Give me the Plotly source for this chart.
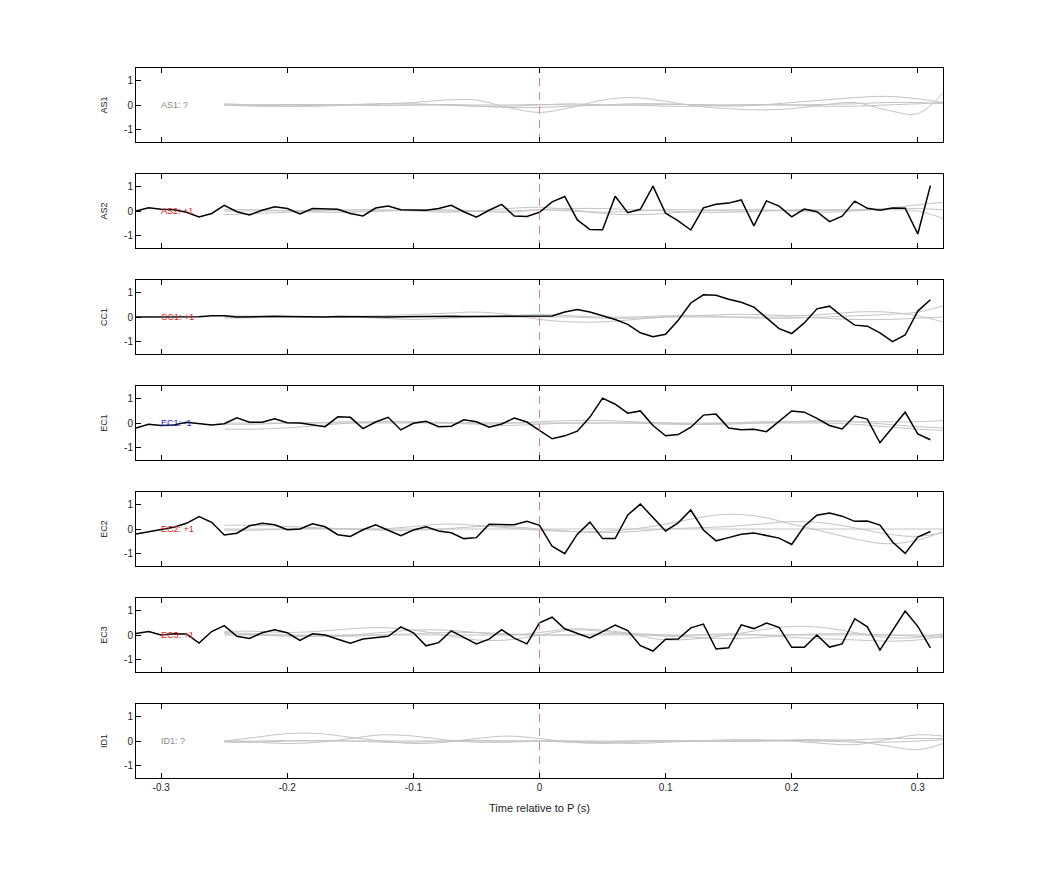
import plotly.graph_objects as go

stations = ["AS1", "AS2", "CC1", "EC1", "EC2", "EC3", "ID1"]
labels = ["AS1: ?", "AS2: +1", "CC1: +1", "EC1: -1", "EC2: +1", "EC3: +1", "ID1: ?"]
label_colors = ["#888888", "#dd2222", "#dd2222", "#2222cc", "#dd2222", "#dd2222", "#888888"]

t_black = [round(-0.32 + 0.01 * i, 2) for i in range(64)]
black = {
    "AS2": [0, 0.13, 0.07, 0.05, -0.05, -0.24, -0.1, 0.23, -0.03, -0.16, 0.03, 0.17, 0.1, -0.12, 0.1, 0.1,
            0.07, -0.1, -0.2, 0.12, 0.2, 0.05, 0.05, 0.03, 0.1, 0.23, -0.03, -0.25, 0.03, 0.27, -0.2, -0.22,
            -0.05, 0.37, 0.59, -0.36, -0.75, -0.76, 0.6, -0.07, 0.07, 1.01, -0.09, -0.4, -0.77, 0.13, 0.27, 0.32,
            0.45, -0.6, 0.41, 0.2, -0.24, 0.08, -0.03, -0.43, -0.21, 0.4, 0.11, 0.03, 0.12, 0.11, -0.93, 1.03],
    "CC1": [0, 0, 0, 0, 0, 0.01, 0.05, 0.05, 0, 0.02, 0.03, 0.03, 0.02, 0.01, 0.01, 0.0,
            0.02, 0.01, 0, -0.01, 0, 0.01, 0.02, 0.01, 0.02, 0.03, 0.02, 0.02, 0.03, 0.03, 0.02, 0.03,
            0.03, 0.04, 0.2, 0.3, 0.2, 0.05, -0.1, -0.3, -0.64, -0.8, -0.7, -0.13, 0.57, 0.9, 0.88, 0.72,
            0.6, 0.4, -0.03, -0.47, -0.67, -0.24, 0.33, 0.44, 0.03, -0.33, -0.37, -0.64, -1.0, -0.73, 0.24, 0.7],
    "EC1": [-0.2, -0.05, -0.1, -0.08, 0.03, -0.03, -0.08, -0.03, 0.21, 0.03, 0.03, 0.17, 0.01, 0, -0.07, -0.15,
            0.25, 0.23, -0.23, 0.04, 0.23, -0.28, -0.01, 0.07, -0.15, -0.13, 0.13, 0.05, -0.17, -0.04, 0.2, 0.04,
            -0.3, -0.64, -0.52, -0.33, 0.24, 1.01, 0.76, 0.4, 0.49, -0.1, -0.52, -0.47, -0.17, 0.32, 0.36, -0.2,
            -0.27, -0.25, -0.35, 0.07, 0.49, 0.44, 0.19, -0.1, -0.24, 0.28, 0.16, -0.8, -0.2, 0.44, -0.44, -0.68],
    "EC2": [-0.2, -0.12, -0.03, 0.07, 0.23, 0.5, 0.27, -0.24, -0.17, 0.13, 0.23, 0.17, -0.03, 0, 0.21, 0.09,
            -0.23, -0.3, -0.03, 0.17, -0.05, -0.27, -0.04, 0.09, -0.08, -0.15, -0.39, -0.35, 0.19, 0.19, 0.17, 0.31,
            0.15, -0.7, -1.0, -0.21, 0.28, -0.39, -0.39, 0.57, 1.01, 0.47, -0.08, 0.25, 0.77, -0.04, -0.48, -0.35,
            -0.21, -0.16, -0.27, -0.37, -0.63, 0.11, 0.56, 0.65, 0.52, 0.31, 0.32, 0.16, -0.53, -0.99, -0.33, -0.1],
    "EC3": [0.06, 0.14, 0, 0.05, 0.04, -0.33, 0.14, 0.38, -0.05, -0.14, 0.09, 0.21, 0.09, -0.22, 0.05, 0,
            -0.17, -0.33, -0.16, -0.12, -0.05, 0.33, 0.09, -0.44, -0.31, 0.17, -0.09, -0.36, -0.17, 0.22, -0.13, -0.36,
            0.49, 0.72, 0.25, 0.06, -0.12, 0.14, 0.4, 0.18, -0.43, -0.65, -0.17, -0.16, 0.29, 0.44, -0.57, -0.52,
            0.41, 0.26, 0.48, 0.31, -0.5, -0.5, 0, -0.49, -0.36, 0.66, 0.33, -0.61, 0.18, 0.97, 0.35, -0.52],
}

t_gray = [round(-0.25 + 0.025 * i, 3) for i in range(23)] + [0.32]
gray = {
    "AS1": [
        [0, 0, 0, 0, 0.02, 0.05, 0.1, 0.2, 0.2, -0.1, -0.3, -0.1, 0.2, 0.3, 0.15, -0.05, -0.15, -0.2, -0.15, 0, 0.1, -0.2, -0.35, 0.5],
        [0.05, 0, -0.05, -0.05, 0, 0.05, 0.05, 0, -0.05, -0.1, -0.1, -0.05, 0, 0.05, 0.05, 0, -0.05, 0, 0.1, 0.2, 0.3, 0.35, 0.25, 0.1],
        [0, 0, 0.02, 0.02, 0, -0.02, 0, 0.02, 0, 0, 0.02, 0, 0, 0, 0.02, 0.02, 0, 0, 0, 0.02, 0.05, 0.1, 0.1, 0.05],
        [0, -0.05, -0.05, 0, 0.02, 0, 0, 0, -0.05, -0.05, 0, 0.05, 0, 0, -0.05, -0.05, 0, 0.02, 0, -0.05, -0.05, 0, 0.05, 0.1],
    ],
    "AS2": [
        [-0.15, -0.1, -0.05, 0, 0.05, 0.05, 0, -0.05, 0, 0.1, 0.15, 0.05, -0.1, -0.15, -0.1, 0, 0.05, 0.05, 0, -0.05, 0, 0.1, 0.25, 0.35],
        [0.05, 0.05, 0, -0.05, -0.05, 0, 0.05, 0.05, 0, -0.05, 0.05, 0.1, 0.1, 0.05, 0, -0.05, -0.05, 0, 0.05, 0.05, 0.05, 0.05, 0, -0.3],
        [0, 0, 0.02, 0.02, 0, 0, 0.02, 0, -0.02, 0, 0.05, 0, -0.05, 0, 0.05, 0.05, 0, 0, 0.02, 0.02, 0.05, 0.1, 0.1, 0.05],
    ],
    "CC1": [
        [0.05, 0.03, 0, 0, 0.02, 0.05, 0.1, 0.15, 0.2, 0.1, -0.1, -0.2, -0.2, -0.1, 0, 0.05, 0.1, 0.1, 0.05, 0.1, 0.2, 0.2, 0.05, -0.2],
        [-0.05, -0.03, 0, 0.02, 0, -0.05, -0.1, -0.05, 0, 0.05, 0.1, 0.05, 0, 0, 0.05, 0.05, 0, -0.05, -0.05, 0, 0.05, 0.1, 0.2, 0.45],
        [0, 0, 0, 0, 0, 0, 0.02, 0.02, 0, 0, 0, 0, -0.05, -0.05, 0, 0, 0, 0, 0, -0.05, -0.1, -0.1, -0.05, 0],
    ],
    "EC1": [
        [-0.25, -0.25, -0.2, -0.1, 0, 0.05, 0.05, 0.02, 0, 0, 0.05, 0.1, 0.1, 0.05, 0, -0.05, -0.05, 0, 0.05, 0.1, 0.05, -0.05, -0.15, -0.2],
        [0, 0, 0, 0.02, 0.05, 0.05, 0.02, 0, -0.05, -0.1, -0.05, 0, 0, 0, -0.05, -0.05, 0, 0.05, 0.05, 0.05, 0.05, 0.05, 0.05, 0.1],
        [-0.05, -0.05, 0, 0, 0, 0, 0, 0, 0, 0, 0, 0, 0, 0, 0, 0, 0, 0, 0, 0, -0.05, -0.15, -0.25, -0.3],
    ],
    "EC2": [
        [0.15, 0.15, 0.1, 0.05, 0, 0, 0.1, 0.2, 0.15, 0.05, -0.05, -0.1, -0.1, 0, 0.2, 0.45, 0.6, 0.5, 0.2, -0.1, -0.4, -0.6, -0.45, -0.1],
        [-0.05, -0.05, 0, 0.02, 0, -0.05, -0.05, 0, 0.1, 0.1, 0, -0.1, -0.15, -0.1, 0, 0.05, 0.1, 0.2, 0.3, 0.25, 0.05, -0.2, -0.3, -0.15],
        [0, 0, 0, 0, 0, 0, 0, 0, 0, 0, 0, 0, 0, 0, 0, 0, 0, 0, 0, 0, 0, 0, 0, 0],
    ],
    "EC3": [
        [0.15, 0.15, 0.1, 0.15, 0.25, 0.3, 0.2, 0, -0.2, -0.2, 0, 0.2, 0.15, 0, -0.2, -0.15, 0, 0.2, 0.35, 0.3, 0.1, -0.1, -0.1, 0.05],
        [0.05, 0, -0.05, -0.05, 0, 0.1, 0.2, 0.2, 0.1, 0, 0.1, 0.25, 0.2, 0.05, -0.05, 0, 0.05, 0, -0.1, -0.15, -0.2, -0.25, -0.2, -0.05],
        [0, 0, 0, 0, 0, 0, 0, 0, 0, 0, 0, 0, 0, 0, 0, 0, 0, 0, 0, 0, 0, 0, 0, 0],
        [0.1, 0.05, 0, -0.05, -0.05, 0, 0.05, 0.1, 0.1, 0.05, 0, 0, 0.05, 0.05, 0, -0.1, -0.15, -0.1, 0, 0.05, 0.05, 0, -0.05, -0.1],
    ],
    "ID1": [
        [0, 0.15, 0.3, 0.3, 0.15, 0, -0.1, -0.05, 0.1, 0.2, 0.1, -0.05, -0.1, -0.05, 0, 0, 0, 0, 0.05, 0.05, 0, -0.2, -0.35, -0.1],
        [0, -0.05, -0.1, -0.05, 0.1, 0.25, 0.2, 0.05, -0.05, -0.05, 0, 0, -0.05, -0.1, -0.05, 0, 0.05, 0.05, 0, -0.1, -0.15, 0.05, 0.25, 0.2],
        [0, 0, 0.02, 0.02, 0, 0, 0, 0, 0, 0, 0, 0, 0, 0, 0, 0, 0, 0, 0, 0, 0.05, 0.1, 0.1, 0.1],
        [-0.05, -0.05, 0, 0, 0, -0.05, -0.05, 0, 0.02, 0, 0, -0.05, -0.05, 0, 0.02, 0, -0.02, 0, 0.02, 0, -0.05, -0.05, 0, 0.05],
    ],
}

W, H = 1042, 875
left, right, top, bottom = 128, 935, 60, 770
n = len(stations)
ph = 74
gap = (bottom - top - n * ph) / (n - 1)

fig = go.Figure()
for i, st in enumerate(stations):
    k = i + 1
    xa = "x" if k == 1 else f"x{k}"
    ya = "y" if k == 1 else f"y{k}"
    y_top = top + i * (ph + gap)
    dom = [1 - (y_top + ph) / H, 1 - y_top / H]
    for g in gray.get(st, []):
        fig.add_trace(go.Scatter(x=t_gray, y=g, mode="lines", line=dict(color="#c4c4c4", width=1, shape="spline"),
                                 xaxis=xa, yaxis=ya, showlegend=False, hoverinfo="skip"))
    if st in black:
        fig.add_trace(go.Scatter(x=t_black, y=black[st], mode="lines", line=dict(color="black", width=1.5),
                                 xaxis=xa, yaxis=ya, showlegend=False))
    fig.add_trace(go.Scatter(x=[0, 0], y=[-1.5, 1.5], mode="lines",
                             line=dict(color="rgba(225,110,110,0.85)", width=1, dash="8px,6px"),
                             xaxis=xa, yaxis=ya, showlegend=False, hoverinfo="skip"))
    fig.add_annotation(x=-0.302, y=0, xref=xa, yref=ya, text=labels[i], showarrow=False, xanchor="left",
                       font=dict(size=9, color=label_colors[i], family="Liberation Sans"))
    axx = dict(domain=[left / W, right / W], range=[-0.32, 0.32], showline=True, linecolor="black", mirror="allticks",
               ticks="inside", ticklen=5, tickcolor="black", dtick=0.1, tick0=0, showgrid=False, zeroline=False,
               showticklabels=(k == n), tickfont=dict(size=10), anchor=ya)
    if k != 1:
        axx["matches"] = "x"
    if k == n:
        axx["title"] = dict(text="Time relative to P (s)", font=dict(size=11), standoff=12)
        axx["tickvals"] = [-0.3, -0.2, -0.1, 0, 0.1, 0.2, 0.3]
        axx["ticktext"] = ["-0.3", "-0.2", "-0.1", "0", "0.1", "0.2", "0.3"]
    axy = dict(domain=dom, range=[-1.5, 1.5], showline=True, linecolor="black", mirror=True,
               ticks="inside", ticklen=5, tickcolor="black", tickvals=[-1, 0, 1], ticktext=["-1", "0", "1"],
               showgrid=False, zeroline=False, tickfont=dict(size=10), anchor=xa,
               title=dict(text=st, font=dict(size=9), standoff=14))
    fig.layout["xaxis" if k == 1 else f"xaxis{k}"] = axx
    fig.layout["yaxis" if k == 1 else f"yaxis{k}"] = axy

fig.update_layout(width=W, height=H, margin=dict(l=0, r=0, t=0, b=0), plot_bgcolor="white", paper_bgcolor="white",
                  font=dict(family="Liberation Sans", color="#222"))
fig.write_html("out.html")
